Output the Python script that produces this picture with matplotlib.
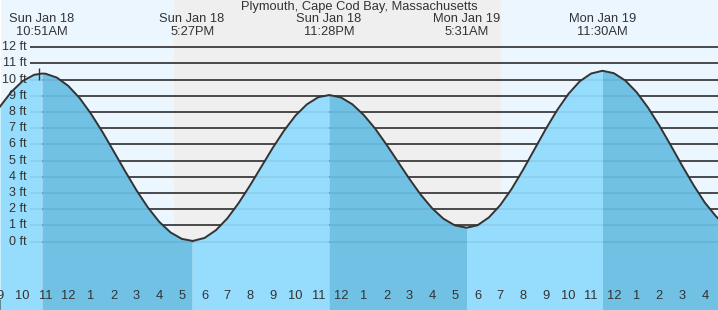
import matplotlib
matplotlib.use('Agg')
import matplotlib.pyplot as plt

plt.rcParams['font.family'] = ['Liberation Sans', 'DejaVu Sans']

# hours counted from Sun Jan 18 00:00, tide height in feet (read every half hour + at highs/lows)
tide_hours = [9, 9.5, 10, 10.5, 10.85, 11, 11.5, 12, 12.5, 13, 13.5, 14, 14.5, 15, 15.5, 16, 16.5, 17,
              17.45, 17.5, 18, 18.5, 19, 19.5, 20, 20.5, 21, 21.5, 22, 22.5, 23,
              23.47, 23.5, 24, 24.5, 25, 25.5, 26, 26.5, 27, 27.5, 28, 28.5, 29,
              29.52, 30, 30.5, 31, 31.5, 32, 32.5, 33, 33.5, 34, 34.5, 35,
              35.5, 36, 36.5, 37, 37.5, 38, 38.5, 39, 39.5, 40, 40.5, 41]
tide_ft = [8.34, 9.25, 9.92, 10.30, 10.38, 10.37, 10.13, 9.62, 8.87, 7.90, 6.79, 5.58, 4.36, 3.18, 2.12, 1.23, 0.57, 0.17,
           0.05, 0.05, 0.23, 0.71, 1.44, 2.39, 3.48, 4.64, 5.80, 6.87, 7.79, 8.48, 8.92,
           9.05, 9.05, 8.90, 8.48, 7.82, 6.98, 5.99, 4.94, 3.89, 2.91, 2.07, 1.42, 1.01,
           0.86, 1.01, 1.49, 2.25, 3.25, 4.42, 5.68, 6.94, 8.11, 9.12, 9.90, 10.38,
           10.55, 10.40, 9.95, 9.23, 8.28, 7.17, 5.95, 4.70, 3.50, 2.41, 1.55, 0.88]

event_hours = [10.85, 17.45, 23.47, 29.52, 35.5]
event_kind = ['high', 'low', 'high', 'low', 'high']
event_days = ['Sun Jan 18', 'Sun Jan 18', 'Sun Jan 18', 'Mon Jan 19', 'Mon Jan 19']
event_times = ['10:51AM', '5:27PM', '11:28PM', '5:31AM', '11:30AM']

sunset_hour = 16.67
sunrise_hour = 31.05
now_hour = 10.71

hour_ticks = list(range(9, 41))
hour_labels = ['9', '10', '11', '12', '1', '2', '3', '4', '5', '6', '7', '8', '9', '10', '11',
               '12', '1', '2', '3', '4', '5', '6', '7', '8', '9', '10', '11',
               '12', '1', '2', '3', '4']
ft_levels = list(range(0, 13))
ft_labels = [f'{v} ft' for v in ft_levels]

title = 'Plymouth, Cape Cod Bay, Massachusetts'

W, H = 718, 310
x0, x1 = 9.065, 40.58
y0, y1 = -4.22, 14.92

day_bg = '#ebf6ff'
night_bg = '#efefef'
water_light = '#96dcfc'
water_dark = '#71c1e5'
ink = '#333333'
fs = 9.3

fig = plt.figure(figsize=(W / 100, H / 100), dpi=100)
ax = fig.add_axes([0, 0, 1, 1])
ax.set_xlim(x0, x1)
ax.set_ylim(y0, y1)
for s in ax.spines.values():
    s.set_visible(False)

# day / night background
ax.axvspan(x0, sunset_hour, color=day_bg, zorder=0, lw=0)
ax.axvspan(sunset_hour, sunrise_hour, color=night_bg, zorder=0, lw=0)
ax.axvspan(sunrise_hour, x1, color=day_bg, zorder=0, lw=0)

# grid lines
gx = x0 + 29 / W * (x1 - x0)
ax.hlines(ft_levels, gx, x1, color=ink, lw=1.2, zorder=1)

# water: light while rising, dark while falling
bounds = [tide_hours[0]] + event_hours + [tide_hours[-1]]
kinds = ['low'] + event_kind
for a, b, k in zip(bounds[:-1], bounds[1:], kinds):
    xs = [h for h in tide_hours if a <= h <= b]
    ys = [v for h, v in zip(tide_hours, tide_ft) if a <= h <= b]
    ax.fill_between(xs, ys, y0, color=water_dark if k == 'high' else water_light,
                    lw=0, zorder=2)

# faint grid over water
ax.hlines(ft_levels, gx, x1, color='black', alpha=0.07, lw=1.2, zorder=3)

ax.plot(tide_hours, tide_ft, color=ink, lw=1.4, zorder=4, solid_joinstyle='round')
ax.vlines(now_hour, 9.95, 10.75, color=ink, lw=1, zorder=5)

for v, lab in zip(ft_levels, ft_labels):
    ax.text(26.5 / W, v, lab, transform=ax.get_yaxis_transform(), ha='right', va='center',
            fontsize=9, color=ink, zorder=6)

# hour ticks along the bottom
ax.set_xticks(hour_ticks)
ax.tick_params(axis='x', direction='in', length=8, width=1, color=ink, labelbottom=False)
ax.set_yticks([])
for t in ax.xaxis.get_major_ticks():
    t.tick1line.set_zorder(6)
    if t.get_loc() == 24:
        t.tick1line.set_markeredgewidth(3)
for h, lab in zip(hour_ticks, hour_labels):
    ax.text(h, (H - 296) / H, lab, transform=ax.get_xaxis_transform(), ha='center', va='center',
            fontsize=fs, color=ink, zorder=6)

# header
ax.text(0.5, 1 - 7 / H, title, transform=ax.transAxes, ha='center', va='center',
        fontsize=fs, color=ink)
for h, d, t in zip(event_hours, event_days, event_times):
    ax.text(h, 1 - 19.5 / H, d, transform=ax.get_xaxis_transform(), ha='center', va='center',
            fontsize=fs, color=ink)
    ax.text(h, 1 - 32 / H, t, transform=ax.get_xaxis_transform(), ha='center', va='center',
            fontsize=fs, color=ink)

fig.savefig('out.png', dpi=100)
